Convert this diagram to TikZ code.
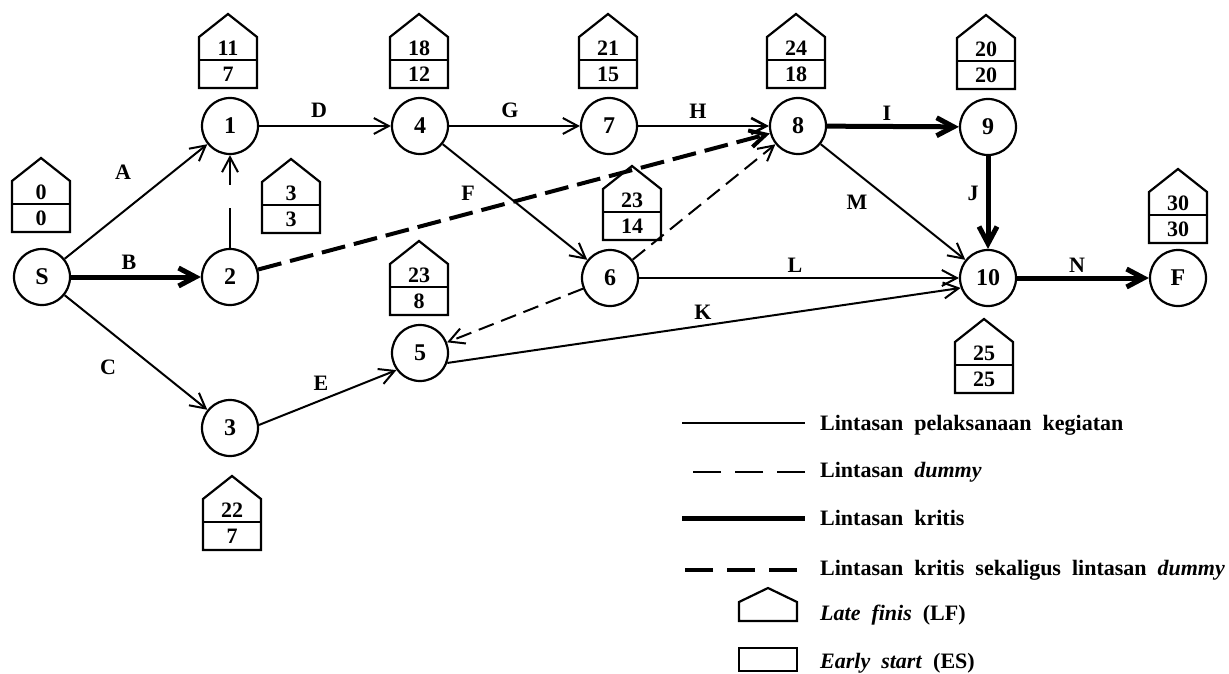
\documentclass[tikz,border=0pt]{standalone}
\usepackage{fontspec}
\setmainfont{Liberation Serif}
\usetikzlibrary{arrows.meta}

% event box: pentagon "house" with LF on top and ES below
\newcommand{\housebox}[5]{%
  \draw[houseline] (#2-29,#3) -- (#2+29,#3) -- (#2+29,#3-51) -- (#2,#3-74)
        -- (#2-29,#3-51) -- cycle;
  \draw[houseline] (#2-29,#3-28) -- (#2+29,#3-28);
  \node[boxnum] (#1lf) at (#2,#3-39.5) {#4};
  \node[boxnum] (#1es) at (#2,#3-14) {#5};
}
% legend font with wide word spacing
\newcommand{\legendfont}{\fontsize{22}{22}\selectfont\bfseries\spaceskip 0.5em plus 0.1em\relax}

\tikzset{
  event/.style={circle, draw, line width=2.2pt, minimum size=56pt, inner sep=0pt,
    font=\fontsize{24}{24}\selectfont\bfseries},
  thinhead/.style={-{Straight Barb[length=15pt,width=16pt]}},
  act/.style={line width=2pt, thinhead},
  crit/.style={line width=5pt, -{Straight Barb[length=17pt,width=18pt]}},
  dum/.style={act, dash pattern=on 16pt off 8pt},
  critdum/.style={line width=4pt, dash pattern=on 24pt off 9pt,
    -{Straight Barb[length=16pt,width=17pt]}},
  lbl/.style={font=\fontsize{22}{22}\selectfont\bfseries, inner sep=0pt},
  houseline/.style={line width=2.2pt, line join=miter},
  boxnum/.style={font=\fontsize{22}{22}\selectfont\bfseries, inner sep=0pt},
  legtext/.style={anchor=base west, inner sep=0pt, font=\legendfont},
}

\begin{document}
\begin{tikzpicture}[x=1pt, y=-1pt]
\useasboundingbox (0,0) rectangle (1229,674);

% events
\node[event] (S)   at (42,277)  {S};
\node[event] (n1)  at (230,126) {1};
\node[event] (n2)  at (230,277) {2};
\node[event] (n3)  at (230,428) {3};
\node[event] (n4)  at (420,126) {4};
\node[event] (n5)  at (420,353) {5};
\node[event] (n6)  at (610,278) {6};
\node[event] (n7)  at (609,126) {7};
\node[event] (n8)  at (798,126) {8};
\node[event] (n9)  at (988,127) {9};
\node[event] (n10) at (988,278) {10};
\node[event] (F)   at (1178,278) {F};

% LF / ES boxes
\housebox{hS}{41}{232}{0}{0}
\housebox{h1}{228}{88}{11}{7}
\housebox{h2}{291}{233}{3}{3}
\housebox{h4}{419}{88}{18}{12}
\housebox{h7}{608}{88}{21}{15}
\housebox{h8}{796}{88}{24}{18}
\housebox{h9}{986}{89}{20}{20}
\housebox{h6}{632}{240}{23}{14}
\housebox{h5}{419}{315}{23}{8}
\housebox{hF}{1178}{243}{30}{30}
\housebox{h10}{984}{393}{25}{25}
\housebox{h3}{232}{550}{22}{7}

% activities
\draw[act] (S) -- (n1);
\draw[crit] (S) -- (n2);
\draw[act] (S) -- (n3);
\draw[line width=2pt, thinhead, dash pattern=on 40pt off 23pt] (n2) -- (n1);
\draw[critdum] (n2) -- (n8);
\draw[act] (n1) -- (n4);
\draw[act] (n4) -- (n7);
\draw[act, line width=2.6pt] (n7) -- (n8);
\draw[act] (n4) -- (n6);
\draw[dum] (n6) -- (n8);
\draw[dum] (n6) -- (n5);
\draw[act] (n6) -- (n10);
\draw[act] (n5.-20) -- (n10.200);
\draw[act] (n3.6) -- (n5.216);
\draw[crit] (n8) -- (n9);
\draw[act] (n8) -- (n10);
\draw[crit] (n9) -- (n10);
\draw[crit] (n10) -- (F);

% activity labels
\node[lbl] (lA) at (123,172) {A};
\node[lbl] (lB) at (129,262) {B};
\node[lbl] (lC) at (108,367) {C};
\node[lbl] (lD) at (319,110) {D};
\node[lbl] (lE) at (321,383) {E};
\node[lbl] (lF) at (468,193) {F};
\node[lbl] (lG) at (510,110) {G};
\node[lbl] (lH) at (698,111) {H};
\node[lbl] (lI) at (887,113) {I};
\node[lbl] (lJ) at (973,193) {J};
\node[lbl] (lK) at (703,312) {K};
\node[lbl] (lL) at (795,265) {L};
\node[lbl] (lM) at (857,202) {M};
\node[lbl] (lN) at (1077,265) {N};

% legend
\draw[line width=2pt] (682,423) -- (805,423);
\node[legtext] (leg1) at (820,430) {Lintasan pelaksanaan kegiatan};
\draw[line width=2pt, dash pattern=on 28pt off 14pt] (805,472) -- (687,472);
\node[legtext] (leg2) at (820,477) {Lintasan \textit{dummy}};
\draw[line width=5pt] (682,518) -- (805,518);
\node[legtext] (leg3) at (820,525) {Lintasan kritis};
\draw[line width=4.5pt, dash pattern=on 28pt off 14pt] (797,570) -- (677,570);
\node[legtext] (leg4) at (820,575) {Lintasan kritis sekaligus lintasan \textit{dummy}};
\draw[houseline] (739,621) -- (797,621) -- (797,602) -- (768,588) -- (739,602) -- cycle;
\node[legtext] (leg5) at (820,620) {\textit{Late finis} (LF)};
\draw[houseline] (739,648) rectangle (797,671);
\node[legtext] (leg6) at (820,668) {\textit{Early start} (ES)};
\end{tikzpicture}
\end{document}
